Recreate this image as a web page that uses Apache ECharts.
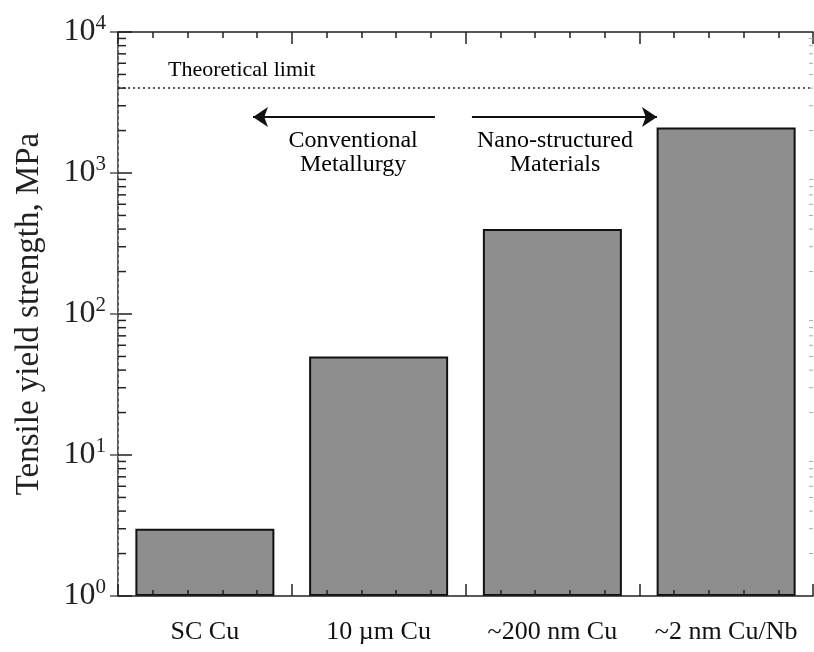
<!DOCTYPE html>
<html>
<head>
<meta charset="utf-8">
<script src="https://cdn.jsdelivr.net/npm/echarts@6/dist/echarts.min.js"></script>
<style>
  html, body { margin: 0; padding: 0; background: #fff; }
  #chart { width: 814px; height: 652px; }
</style>
</head>
<body>
<div id="chart"></div>
<script>
var categories = ['SC Cu', '10 µm Cu', '~200 nm Cu', '~2 nm Cu/Nb'];
var strengths = [3, 50, 400, 2100];
var theoreticalLimit = 4000;
var minorTickValues = [2, 3, 4, 5, 6, 7, 8, 9, 20, 30, 40, 50, 60, 70, 80, 90,
    200, 300, 400, 500, 600, 700, 800, 900, 2000, 3000, 4000, 5000, 6000, 7000, 8000, 9000];
// annotations: [x in category units, y in MPa]
var notes = [
    { name: 'Theoretical limit', value: [0.288, 5375], pos: 'right' },
    { name: 'Conventional\nMetallurgy', value: [1.353, 1400], pos: 'inside' },
    { name: 'Nano-structured\nMaterials', value: [2.515, 1400], pos: 'inside' }
];
var arrowLeft = [[1.824, 2500], [0.777, 2500]];
var arrowRight = [[2.037, 2500], [3.102, 2500]];

var font = 'Liberation Serif';
var chart = echarts.init(document.getElementById('chart'));

var tickAxis = function (pos) {
    return {
        type: 'value',
        position: pos,
        min: 0,
        max: 4,
        interval: 1,
        z: 5,
        axisLine: { show: true, lineStyle: { color: '#222', width: 1.5 } },
        axisTick: { show: true, inside: true, length: 12, lineStyle: { color: '#222', width: 1.5 } },
        minorTick: { show: true, splitNumber: 5, length: 6, lineStyle: { color: '#222', width: 1.5 } },
        axisLabel: { show: false },
        splitLine: { show: false }
    };
};

option = {
    backgroundColor: '#fff',
    animation: false,
    grid: { left: 118, right: 1, top: 32, bottom: 56 },
    xAxis: [{
        type: 'category',
        data: categories,
        position: 'bottom',
        z: 5,
        axisLine: { show: false },
        axisTick: { show: false },
        axisLabel: { interval: 0, fontFamily: font, fontSize: 26, color: '#111', margin: 23 }
    }, tickAxis('bottom'), tickAxis('top')],
    yAxis: [{
        type: 'log',
        min: 1,
        max: 10000,
        logBase: 10,
        position: 'left',
        z: 5,
        name: 'Tensile yield strength, MPa',
        nameLocation: 'middle',
        nameRotate: 90,
        nameGap: 72,
        nameTextStyle: { fontFamily: font, fontSize: 33, color: '#222' },
        axisLine: { show: true, lineStyle: { color: '#222', width: 1.5 } },
        axisTick: { show: true, inside: true, length: 14, lineStyle: { color: '#222', width: 1.5 } },
        axisLabel: {
            margin: 12,
            formatter: function (v) {
                return '{b|10}{s|' + Math.round(Math.log10(v)) + '}';
            },
            rich: {
                b: { fontFamily: font, fontSize: 32, color: '#222' },
                s: { fontFamily: font, fontSize: 21, color: '#222', padding: [0, 0, 18, 0] }
            }
        },
        splitLine: { show: false }
    }, {
        type: 'log',
        min: 1,
        max: 10000,
        logBase: 10,
        position: 'right',
        z: 5,
        axisLine: { show: true, lineStyle: { color: '#aaa', width: 1, type: [2, 4] } },
        axisTick: { show: true, inside: true, length: 8, lineStyle: { color: '#555', width: 1.5 } },
        axisLabel: { show: false },
        splitLine: { show: false }
    }],
    series: [{
        type: 'bar',
        xAxisIndex: 0,
        yAxisIndex: 0,
        barWidth: '80%',
        data: strengths,
        itemStyle: { color: '#8e8e8e', borderColor: '#111', borderWidth: 2 },
        markLine: {
            silent: true,
            symbol: ['none', 'none'],
            label: { show: false },
            lineStyle: { color: '#222', width: 1.5, type: [2, 3] },
            data: [{ yAxis: theoreticalLimit }]
        }
    }, {
        type: 'custom',
        xAxisIndex: 1,
        yAxisIndex: 0,
        encode: { y: 0 },
        data: minorTickValues,
        z: 6,
        silent: true,
        renderItem: function (params, api) {
            var v = api.value(0);
            var l = api.coord([0, v]);
            var r = api.coord([4, v]);
            return {
                type: 'group',
                children: [{
                    type: 'line',
                    shape: { x1: l[0], y1: l[1], x2: l[0] + 8, y2: l[1] },
                    style: { stroke: '#222', lineWidth: 1.5 }
                }, {
                    type: 'line',
                    shape: { x1: r[0], y1: r[1], x2: r[0] - 4, y2: r[1] },
                    style: { stroke: '#aaa', lineWidth: 1 }
                }]
            };
        }
    }, {
        type: 'scatter',
        xAxisIndex: 1,
        yAxisIndex: 0,
        symbolSize: 0,
        silent: true,
        itemStyle: { opacity: 1 },
        data: notes.map(function (n) {
            return {
                name: n.name,
                value: n.value,
                label: { position: n.pos, distance: 0 }
            };
        }),
        label: {
            show: true,
            formatter: '{b}',
            fontFamily: font,
            fontSize: 24,
            lineHeight: 24,
            color: '#000',
            opacity: 1,
            align: 'center'
        },
        markLine: {
            silent: true,
            symbol: ['none', 'arrow'],
            symbolSize: 15,
            label: { show: false },
            lineStyle: { color: '#111', width: 2, type: 'solid' },
            data: [
                [{ coord: arrowLeft[0] }, { coord: arrowLeft[1] }],
                [{ coord: arrowRight[0] }, { coord: arrowRight[1] }]
            ]
        }
    }]
};
option.series[2].data[0].label.align = 'left';
option.series[2].data[0].label.fontSize = 22;

chart.setOption(option);
</script>
</body>
</html>
